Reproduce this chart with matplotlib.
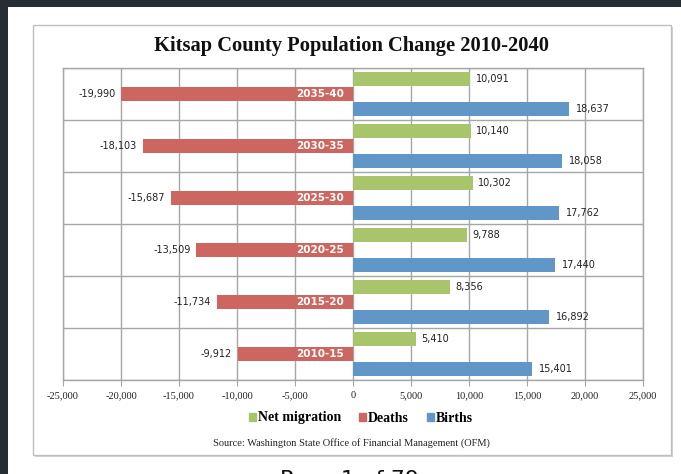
import numpy as np
import matplotlib
matplotlib.use('Agg')
import matplotlib.pyplot as plt
from matplotlib.patches import Rectangle, Patch

# ── Datos (OFM) ───────────────────────────────────────────────────────────────
periods       = ['2010-15', '2015-20', '2020-25', '2025-30', '2030-35', '2035-40']
net_migration = [5410, 8356, 9788, 10302, 10140, 10091]
deaths        = [-9912, -11734, -13509, -15687, -18103, -19990]
births        = [15401, 16892, 17440, 17762, 18058, 18637]
xticks        = list(range(-25000, 25001, 5000))

GREEN = '#a9c56b'
RED   = '#cd6660'
BLUE  = '#6096c8'
GRID  = '#a6a6a6'

W, H = 681, 474
fig = plt.figure(figsize=(W / 100, H / 100), dpi=100)
fig.patch.set_facecolor('#272d35')


def px_rect(x0, y0, x1, y1, **kw):
    # rectángulo en píxeles (origen arriba-izquierda)
    r = Rectangle((x0 / W, 1 - y1 / H), (x1 - x0) / W, (y1 - y0) / H,
                  transform=fig.transFigure, **kw)
    fig.patches.append(r)


# página blanca y marco del gráfico
px_rect(8, 7, W + 2, H + 2, facecolor='white', edgecolor='none', zorder=0)
px_rect(35, 27, 673, 457, facecolor='#d4d4d4', edgecolor='none', zorder=0.5)
px_rect(33, 25, 671, 455, facecolor='white', edgecolor='#bfbfbf', lw=1, zorder=1)

ax = fig.add_axes([63 / W, 1 - 380 / H, (643 - 63) / W, (380 - 68) / H])
ax.set_zorder(2)
ax.set_facecolor('white')

y = np.arange(len(periods))
h, off = 0.27, 0.285
ax.barh(y + off, net_migration, height=h, color=GREEN, zorder=3)
ax.barh(y, deaths, height=h, color=RED, zorder=3)
ax.barh(y - off, births, height=h, color=BLUE, zorder=3)

lab_kw = dict(fontsize=7, family='DejaVu Sans', color='#222222', va='center')
for i in range(len(periods)):
    ax.text(net_migration[i] + 500, y[i] + off, f'{net_migration[i]:,}', ha='left', **lab_kw)
    ax.text(deaths[i] - 500, y[i], f'{deaths[i]:,}', ha='right', **lab_kw)
    ax.text(births[i] + 600, y[i] - off, f'{births[i]:,}', ha='left', **lab_kw)
    ax.text(-750, y[i], periods[i], ha='right', va='center', color='white',
            fontsize=7.5, fontweight='bold', family='DejaVu Sans', zorder=4)

ax.set_xlim(-25000, 25000)
ax.set_ylim(-0.5, len(periods) - 0.5)
ax.set_xticks(xticks)
ax.set_xticklabels([f'{v:,}' for v in xticks], family='Liberation Serif',
                   fontsize=7.5, color='#222222')
ax.set_yticks([])
ax.set_yticks(np.arange(-0.5, len(periods)), minor=True)
ax.tick_params(axis='x', length=4, color=GRID, pad=4)
ax.tick_params(axis='y', which='minor', length=0)
ax.grid(axis='x', color=GRID, lw=1, zorder=0)
ax.grid(axis='y', which='minor', color=GRID, lw=1, zorder=0)
ax.set_axisbelow(True)
for s in ax.spines.values():
    s.set_color(GRID)
    s.set_linewidth(1)

fig.text(352 / W, 1 - 46 / H, 'Kitsap County Population Change 2010-2040',
         ha='center', va='center', family='Liberation Serif', fontweight='bold',
         fontsize=14.8, color='#111111')

handles = [Patch(color=GREEN, label='Net migration'),
           Patch(color=RED, label='Deaths'),
           Patch(color=BLUE, label='Births')]
fig.legend(handles=handles, loc='center', bbox_to_anchor=(361 / W, 1 - 418 / H),
           ncol=3, frameon=False, handlelength=0.5, handleheight=0.5,
           handletextpad=0.15, columnspacing=1.3,
           prop=dict(family='Liberation Serif', weight='bold', size=10))

fig.text(351 / W, 1 - 443 / H,
         'Source: Washington State Office of Financial Management (OFM)',
         ha='center', va='center', family='Liberation Serif', fontsize=7.5,
         color='#222222')

fig.text(350 / W, 1 - 470 / H, 'Page 1 of 79', ha='center', va='top',
         family='DejaVu Sans', fontsize=16, color='#111111')

fig.savefig('out.png', dpi=100)
